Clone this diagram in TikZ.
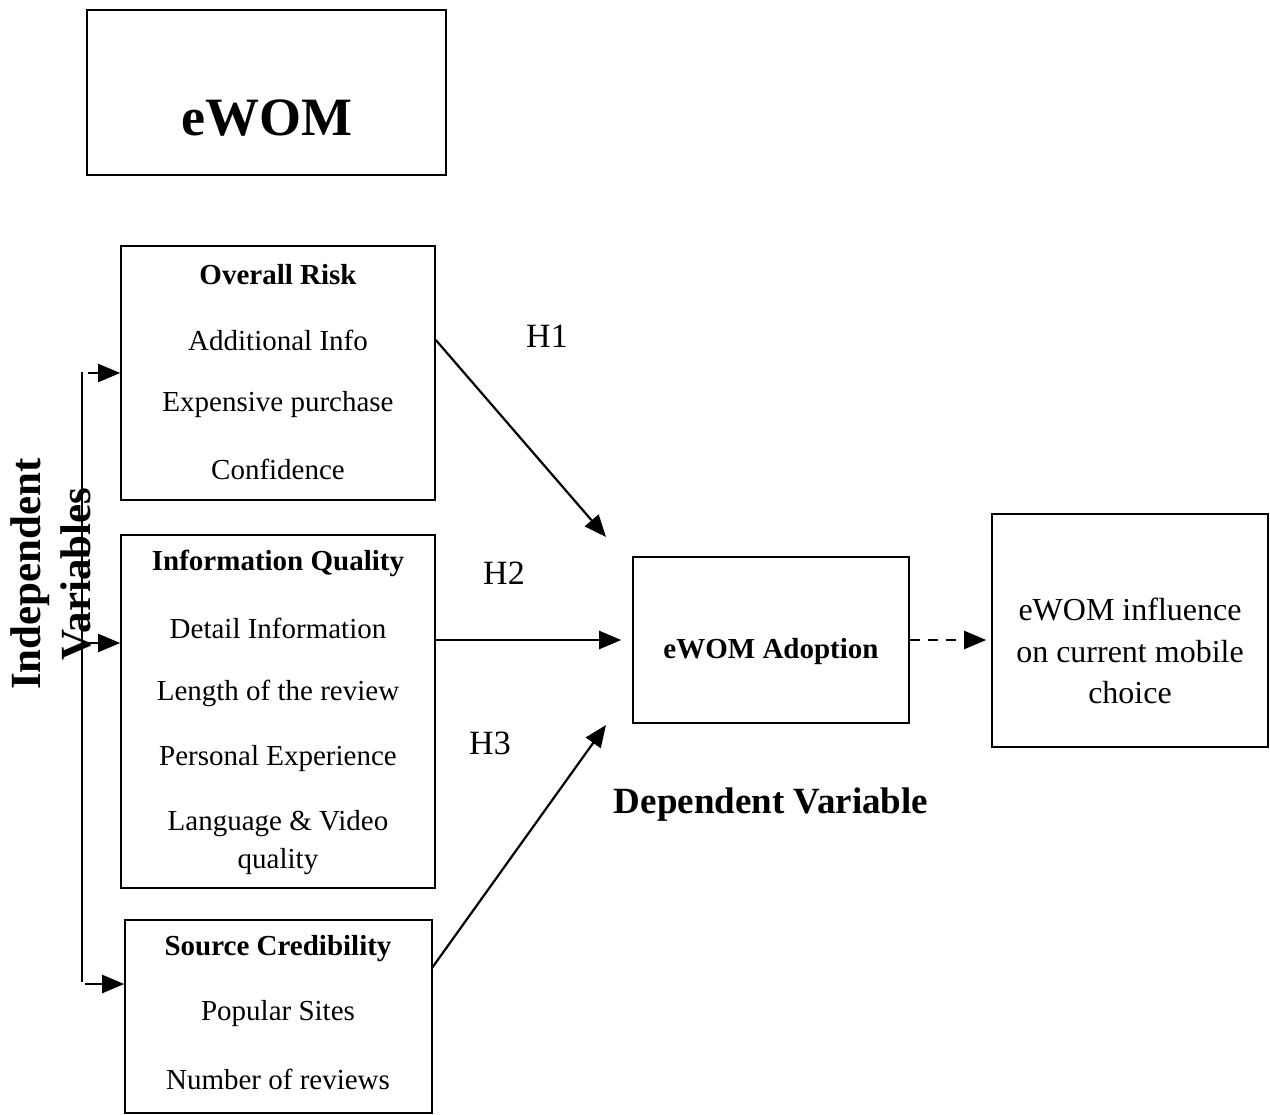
\documentclass[tikz,border=0pt]{standalone}
\usepackage{fontspec}
\setmainfont{Liberation Serif}
\usetikzlibrary{arrows.meta,calc}
\tikzset{
  box/.style={draw,line width=1.6pt,minimum width=#1,inner sep=0pt},
  txt/.style={font=\fontsize{29}{33}\selectfont,inner sep=0pt,anchor=center},
  hd/.style={font=\fontsize{29}{33}\selectfont\bfseries,inner sep=0pt,anchor=center},
  hl/.style={font=\fontsize{34}{38}\selectfont,inner sep=0pt},
  tip/.style={-{Triangle[length=22pt,width=18pt]}},
  conn/.style={line width=2.2pt,tip},
}
\begin{document}
\begin{tikzpicture}[x=1pt,y=-1pt]
\useasboundingbox (0,0) rectangle (1270,1115);
% boxes
\node[box=359pt,minimum height=165pt] (ew) at (266.5,92.5) {};
\node[font=\fontsize{54}{60}\selectfont\bfseries,inner sep=0pt] (ewt) at (267,118) {eWOM};
\node[box=314pt,minimum height=254pt] (or) at (278,373) {};
\node[box=314pt,minimum height=353pt] (iq) at (278,711.5) {};
\node[box=307pt,minimum height=193pt] (sc) at (278.5,1016.5) {};
\node[box=276pt,minimum height=166pt] (ad) at (771,640) {};
\node[box=276pt,minimum height=233pt] (inf) at (1130,630.5) {};
% texts
\node[hd] (ort) at (278,275) {Overall Risk};
\node[txt] (ai) at (278,340) {Additional Info};
\node[txt] (ep) at (278,405) {Expensive purchase};
\node[txt] (cf) at (278,469) {Confidence};
\node[hd] (iqt) at (278,563) {Information Quality};
\node[txt] (di) at (278,628) {Detail Information};
\node[txt] (lr) at (278,693) {Length of the review};
\node[txt] (pe) at (278,759) {Personal Experience};
\node[txt] (lv) at (278,824) {Language \& Video};
\node[txt] (qu) at (278,862) {quality};
\node[hd] (sct) at (278,949) {Source Credibility};
\node[txt] (ps) at (278,1014) {Popular Sites};
\node[txt] (nr) at (278,1079) {Number of reviews};
\node[hd] (adt) at (771,652) {eWOM Adoption};
\node[txt,font=\fontsize{32}{36}\selectfont] (in1) at (1130,609) {eWOM influence};
\node[txt,font=\fontsize{32}{36}\selectfont] (in2) at (1130,652) {on current mobile};
\node[txt,font=\fontsize{32}{36}\selectfont] (in3) at (1130,693) {choice};
\node[hl] (h1) at (547,336) {H1};
\node[hl] (h2) at (504,573) {H2};
\node[hl] (h3) at (490,743) {H3};
\node[font=\fontsize{37}{42}\selectfont\bfseries,inner sep=0pt] (dv) at (771,805) {Dependent Variable};
\node[font=\fontsize{43}{46}\selectfont\bfseries,inner sep=0pt,rotate=90,align=center] (iv) at (51,574) {Independent\\[4pt]Variables};
% connectors
\coordinate (h1e) at (606,537);
\coordinate (h3s) at (432,968);
\coordinate (h3e) at (606,725);
\draw[conn] (or.east |- ai) -- (h1e);
\draw[conn,shorten >=11pt] (iq.east |- ad.west) -- (ad.west);
\draw[conn] (h3s) -- (h3e);
\draw[line width=2.2pt,dash pattern=on 10pt off 8pt,tip,shorten >=5pt] (ad.east) -- (inf.west |- ad.east);
% bracket
\coordinate (bt) at (82,372);
\coordinate (bb) at (82,982);
\draw[line width=1.8pt] (bt) -- (bb);
\draw[conn] (88,373) -- (or.west |- 0,373);
\draw[conn] (88,643) -- (iq.west |- 0,643);
\draw[conn] (85,984) -- (sc.west |- 0,984);
\end{tikzpicture}
\end{document}
